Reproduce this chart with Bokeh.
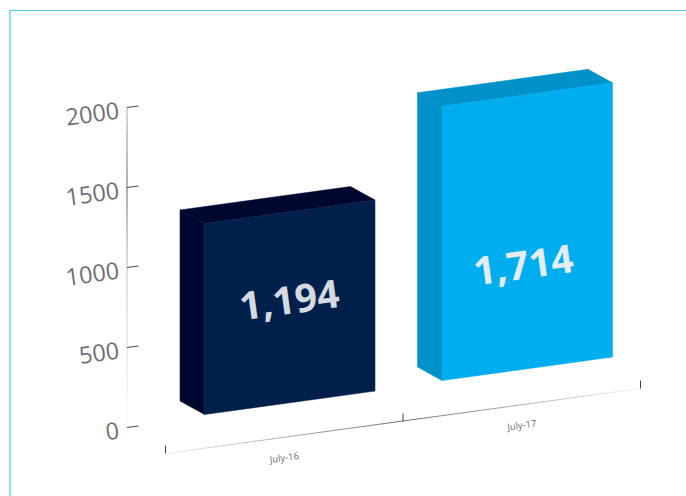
import math
from bokeh.core.properties import value
from bokeh.embed import file_html
from bokeh.models import Range1d
from bokeh.plotting import figure
from bokeh.resources import INLINE

categories = ["July-16", "July-17"]
amounts = [1194, 1714]
y_ticks = [0, 500, 1000, 1500, 2000]
y_tick_labels = ["0", "500", "1000", "1500", "2000"]
front_colors = ["#001f4b", "#00adef"]
side_colors = ["#00072e", "#0091c9"]
edge_colors = ["#0a1a50", "#007fb3"]
label_colors = ["#d5d9e0", "#e4edf3"]

# Oblique projection of the chart's space on to the page
PX_PER_UNIT = 0.16
AXIS_ZERO_Y = 427.0
AXIS_X = 126.5
FRONT_LEFT = [204.0, 441.5]
FRONT_BASE = [414.0, 380.0]
FRONT_WIDTH = 170.5
FLOOR_SLOPE = -23.5 / 171.0
DEPTH = (-24.5, -13.5)
LABEL_RISE = [103.0, 104.0]
LABEL_SHIFT = [0.0, -3.5]
TILT = math.atan(-FLOOR_SLOPE)

p = figure(width=686, height=496, output_backend="svg", toolbar_location=None,
           x_range=Range1d(0, 686), y_range=Range1d(496, 0), min_border=0)
p.axis.visible = False
p.grid.visible = False
p.outline_line_color = None
p.background_fill_color = "#ffffff"


def gradient_line(x0, y0, x1, y1, stops, n=40):
    """Thin rule whose darkness follows the (position, grey level) stops."""
    xs, ys, cols = [], [], []
    for k in range(n):
        t0, t1 = k / n, (k + 1) / n
        mid = (t0 + t1) / 2
        for (a, ca), (b, cb) in zip(stops, stops[1:]):
            if a <= mid <= b:
                g = int(ca + (cb - ca) * (mid - a) / (b - a))
        xs.append([x0 + (x1 - x0) * t0, x0 + (x1 - x0) * t1])
        ys.append([y0 + (y1 - y0) * t0, y0 + (y1 - y0) * t1])
        cols.append(f"#{g:02x}{g:02x}{g:02x}")
    p.multi_line(xs, ys, line_color=cols, line_width=1)


# Frame rule along the top and left of the panel
p.line([9.5, 9.5, 686], [496, 10, 10], line_color="#4cc9f5", line_width=1.2)

# Value axis
top_y = AXIS_ZERO_Y - y_ticks[-1] * PX_PER_UNIT
gradient_line(AXIS_X, top_y, AXIS_X, AXIS_ZERO_Y,
              [(0, 175), (0.25, 95), (0.5, 190), (1, 248)])
for tick, text in zip(y_ticks, y_tick_labels):
    ty = AXIS_ZERO_Y - tick * PX_PER_UNIT
    p.line([AXIS_X, AXIS_X + 11.5], [ty, ty - 1.5], line_color="#333333", line_width=0.9)
    p.text([118.5], [ty + 2.5], text=[text], text_font=value("Open Sans"),
           text_font_style="normal", text_font_size="23.5px", text_color="#6d6e71",
           text_align="right", text_baseline="middle", angle=TILT)

# Category axis along the floor
floor_x = [165.0, 402.5, 640.0]
floor_y = [453.0, 421.0, 388.0]
gradient_line(floor_x[0], floor_y[0], floor_x[2], floor_y[2],
              [(0, 240), (0.5, 110), (1, 245)], n=60)
for fx, fy in zip(floor_x, floor_y):
    p.line([fx, fx], [fy, fy - 8], line_color="#444444", line_width=1)
for i, cat in enumerate(categories):
    p.text([(floor_x[i] + floor_x[i + 1]) / 2], [(floor_y[i] + floor_y[i + 1]) / 2 + 20],
           text=[cat], text_font=value("Open Sans"), text_font_size="9.5px",
           text_color="#6d6e71", text_align="center", text_baseline="middle", angle=TILT)

# Bars: side and top faces behind, front face on top
for i, amount in enumerate(amounts):
    h = amount * PX_PER_UNIT
    xl, xr = FRONT_LEFT[i], FRONT_LEFT[i] + FRONT_WIDTH
    yl = FRONT_BASE[i]
    yr = yl + FLOOR_SLOPE * FRONT_WIDTH
    dx, dy = DEPTH
    side_x = [xl + dx, xl, xl, xl + dx]
    side_y = [yl + dy, yl, yl - h, yl - h + dy]
    top_x = [xl + dx, xl, xr, xr + dx]
    top_y_pts = [yl - h + dy, yl - h, yr - h, yr - h + dy]
    front_x = [xl, xr, xr, xl]
    front_y = [yl, yr, yr - h, yl - h]
    p.patch(side_x, side_y, fill_color=side_colors[i], line_color=side_colors[i], line_width=0.5)
    p.patch(top_x, top_y_pts, fill_color=side_colors[i], line_color=side_colors[i], line_width=0.5)
    p.patch(front_x, front_y, fill_color=front_colors[i], line_color=front_colors[i], line_width=0.5)
    p.line([xl + dx, xl], [yl - h + dy, yl - h], line_color=edge_colors[i],
           line_width=0.5, line_alpha=0.4)
    p.text([(xl + xr) / 2 - 0.5 + LABEL_SHIFT[i]], [(yl + yr) / 2 - LABEL_RISE[i]], text=[f"{amount:,}"],
           text_font=value("Open Sans"), text_font_style="bold", text_font_size="39px",
           text_color=label_colors[i], text_align="center", text_baseline="middle", angle=TILT)

open("out.html", "w").write(file_html(p, INLINE))
